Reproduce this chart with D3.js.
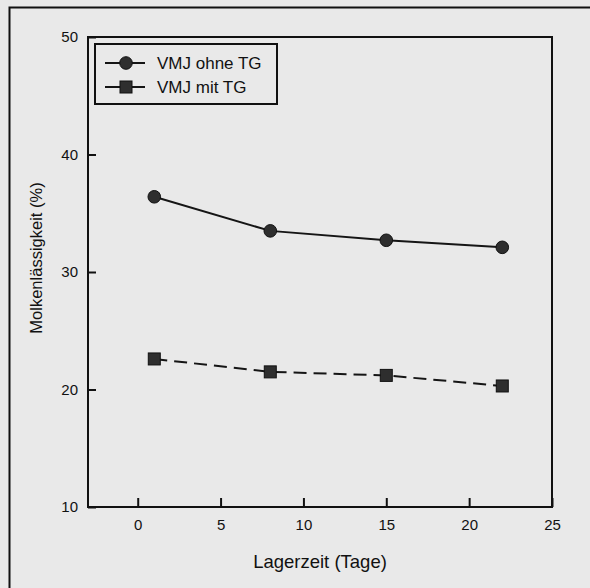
<!DOCTYPE html>
<meta charset="utf-8">
<style>
body { margin:0; background:#e9e9e9; }
text { font-family: "Liberation Sans", Arial, Helvetica, sans-serif; fill:#111; }
</style>
<body>
<div id="chart"></div>
<script src="https://d3js.org/d3.v7.min.js"></script>
<script>
// Lagerzeit in Tagen
var days = [1, 8, 15, 22];
// Molkenlässigkeit (%)
var ohneTG = [36.4, 33.5, 32.7, 32.1];
var mitTG = [22.6, 21.5, 21.2, 20.3];
var xTicks = [0, 5, 10, 15, 20, 25];
var yTicks = [10, 20, 30, 40, 50];
var seriesNames = ["VMJ ohne TG", "VMJ mit TG"];

var width = 590, height = 588;
var plotLeft = 88, plotRight = 552, plotTop = 37, plotBottom = 507;

var svg = d3.select("#chart").append("svg").attr("width", width).attr("height", height);

svg.append("rect").attr("width", width).attr("height", height).attr("fill", "#e9e9e9");

// Rahmen um die ganze Abbildung (nur links und oben sichtbar)
svg.append("path")
  .attr("d", "M9.5," + height + " V7.5 H" + width)
  .attr("fill", "none").attr("stroke", "#111").attr("stroke-width", 2);

var x = d3.scaleLinear().domain([-3, 25]).range([plotLeft, plotRight]);
var y = d3.scaleLinear().domain([10, 50]).range([plotBottom, plotTop]);

// Achsen
var xAxis = svg.append("g")
  .attr("transform", "translate(0," + plotBottom + ")")
  .call(d3.axisBottom(x).tickValues(xTicks).tickSizeInner(-9).tickSizeOuter(0).tickPadding(12));
xAxis.select(".domain").remove();
xAxis.selectAll("line").attr("stroke", "#111").attr("stroke-width", 2);
xAxis.selectAll("text").style("font-size", "15px").attr("fill", "#111");

var yAxis = svg.append("g")
  .attr("transform", "translate(" + plotLeft + ",0)")
  .call(d3.axisLeft(y).tickValues(yTicks).tickSizeInner(-8).tickSizeOuter(0).tickPadding(10));
yAxis.select(".domain").remove();
yAxis.selectAll("line").attr("stroke", "#111").attr("stroke-width", 2);
yAxis.selectAll("text").style("font-size", "15px").attr("fill", "#111");

svg.append("rect")
  .attr("x", plotLeft).attr("y", plotTop)
  .attr("width", plotRight - plotLeft).attr("height", plotBottom - plotTop)
  .attr("fill", "none").attr("stroke", "#111").attr("stroke-width", 2);

// Achsentitel
svg.append("text")
  .attr("x", (plotLeft + plotRight) / 2).attr("y", 568)
  .attr("text-anchor", "middle").style("font-size", "18.5px")
  .text("Lagerzeit (Tage)");

svg.append("text")
  .attr("transform", "translate(42,258) rotate(-90)")
  .attr("text-anchor", "middle").style("font-size", "16.5px")
  .text("Molkenlässigkeit (%)");

// Linien
var line = d3.line()
  .x(function(d, i) { return x(days[i]); })
  .y(function(d) { return y(d); });

svg.append("path").datum(ohneTG)
  .attr("d", line).attr("fill", "none")
  .attr("stroke", "#151515").attr("stroke-width", 2);

svg.append("path").datum(mitTG)
  .attr("d", line).attr("fill", "none")
  .attr("stroke", "#151515").attr("stroke-width", 2)
  .attr("stroke-dasharray", "13,7");

svg.append("g").selectAll("circle")
  .data(ohneTG).enter().append("circle")
  .attr("cx", function(d, i) { return x(days[i]); })
  .attr("cy", function(d) { return y(d); })
  .attr("r", 6.3)
  .attr("fill", "#2e2e2e").attr("stroke", "#111").attr("stroke-width", 1);

svg.append("g").selectAll("rect")
  .data(mitTG).enter().append("rect")
  .attr("x", function(d, i) { return x(days[i]) - 6; })
  .attr("y", function(d) { return y(d) - 6; })
  .attr("width", 12).attr("height", 12)
  .attr("fill", "#2e2e2e").attr("stroke", "#111").attr("stroke-width", 1);

// Legende
var legend = svg.append("g");
legend.append("rect")
  .attr("x", 95).attr("y", 44).attr("width", 182).attr("height", 60)
  .attr("fill", "none").attr("stroke", "#111").attr("stroke-width", 2);

var rows = [63, 87];
seriesNames.forEach(function(name, i) {
  var ly = rows[i];
  legend.append("line")
    .attr("x1", 105).attr("x2", 145).attr("y1", ly).attr("y2", ly)
    .attr("stroke", "#151515").attr("stroke-width", 2);
  if (i == 0) {
    legend.append("circle").attr("cx", 126).attr("cy", ly).attr("r", 6.3)
      .attr("fill", "#2e2e2e").attr("stroke", "#111");
  } else {
    legend.append("rect").attr("x", 120).attr("y", ly - 6).attr("width", 12).attr("height", 12)
      .attr("fill", "#2e2e2e").attr("stroke", "#111");
  }
  legend.append("text")
    .attr("x", 157).attr("y", ly + 6)
    .style("font-size", "17px")
    .text(name);
});
</script>
</body>
